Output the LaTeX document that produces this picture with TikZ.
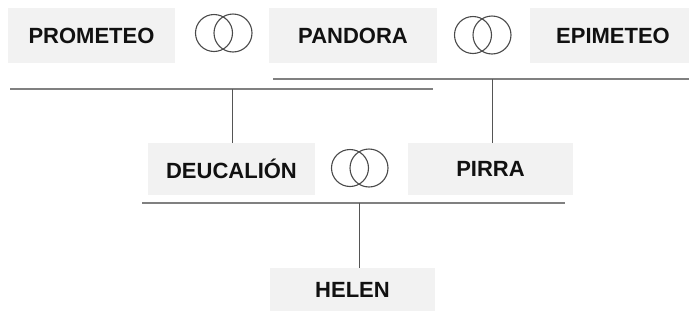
\documentclass[tikz,border=0pt]{standalone}
\usepackage{fontspec}
\setmainfont{Liberation Sans}
\definecolor{boxfill}{HTML}{F2F2F2}
\definecolor{textcol}{HTML}{111111}
\definecolor{hline}{HTML}{808080}
\definecolor{vline}{HTML}{555555}
\definecolor{ringcol}{HTML}{4A4A4A}
\tikzset{
  person/.style={fill=boxfill, inner sep=0pt, minimum width=#1, minimum height=55pt,
    text=textcol, font=\fontsize{22}{24}\selectfont\bfseries},
  person/.default=167pt,
  famline/.style={draw=hline, line width=2pt},
  descent/.style={draw=vline, line width=1pt},
  ringline/.style={draw=ringcol, line width=1.1pt},
}
\newcommand{\marriage}[1]{%
  \draw[ringline] ([xshift=-9.5pt]#1) circle[radius=18.5pt];
  \draw[ringline] ([xshift=9.5pt]#1) circle[radius=19pt];
}
\begin{document}
\begin{tikzpicture}[x=1pt,y=-1pt]
\useasboundingbox[fill=white] (0,0) rectangle (689,322);

% first generation
\node[person] (prometeo) at (91.5,35.5) {PROMETEO};
\node[person=168pt] (pandora) at (353,35.5) {PANDORA};
\node[person=166pt] (epimeteo) at (613,35.5) {EPIMETEO};
\coordinate (r1) at (223.5,33);
\coordinate (r2) at (482.5,35);
\marriage{r1}
\marriage{r2}

% family lines
\coordinate (a1) at (273,79);
\coordinate (a2) at (689,79);
\coordinate (b1) at (10,89);
\coordinate (b2) at (433,89);
\draw[famline] (a1) -- (a2);
\draw[famline] (b1) -- (b2);

% second generation
\node[person] (deucalion) at (231.5,169) [minimum height=52pt] {DEUCALIÓN};
\node[person=165pt] (pirra) at (490.5,169) [minimum height=52pt] {PIRRA};
\coordinate (r3) at (359.5,168);
\marriage{r3}

\coordinate (bd) at (232,89);
\coordinate (ap) at (492,79);
\draw[descent] (bd) -- (bd |- deucalion.north);
\draw[descent] (ap) -- (ap |- pirra.north);

\coordinate (c1) at (142,202.5);
\coordinate (c2) at (565,202.5);
\draw[famline] (c1) -- (c2);

% third generation
\node[person=165pt] (helen) at (352.5,289.5) [minimum height=43pt] {HELEN};
\coordinate (ch) at (359.5,202.5);
\draw[descent] (ch) -- (ch |- helen.north);
\end{tikzpicture}
\end{document}
